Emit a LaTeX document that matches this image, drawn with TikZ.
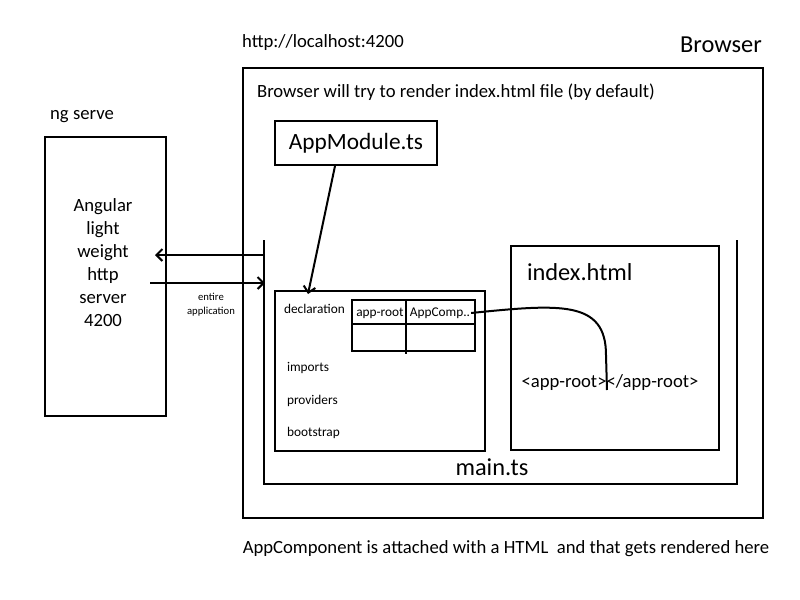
\documentclass[tikz,border=0pt]{standalone}
\usepackage{fontspec}
\setmainfont{Carlito}
\usetikzlibrary{arrows.meta}
\begin{document}
\begin{tikzpicture}[x=0.75pt,y=-0.75pt,line width=1.5pt,
  box/.style={draw,inner sep=0pt},
  lbl/.style={inner sep=0pt,font=\fontsize{14}{16}\selectfont},
  big/.style={inner sep=0pt,font=\fontsize{18.3}{21}\selectfont},
  small/.style={inner sep=0pt,font=\fontsize{10}{12}\selectfont}]
\useasboundingbox (0,0) rectangle (800,600);

% browser window
\node[box,minimum width=390pt,minimum height=337.5pt] (browser) at (503,293) {};
\node[big] (browsertitle) at (721,45) {Browser};
\node[lbl] (url) at (323,43) {http://localhost:4200};
\node[lbl] (render) at (456,92) {Browser will try to render index.html file (by default)};

\node[box,minimum width=121.5pt,minimum height=33pt,font=\fontsize{17.5}{20}\selectfont] (appmod) at (356,143) {AppModule.ts};

% main.ts, open at the top
\coordinate (mainTL) at (264,240);
\coordinate (mainBL) at (264,484);
\coordinate (mainBR) at (737,484);
\coordinate (mainTR) at (737,240);
\draw (mainTL) -- (mainBL) -- (mainBR) -- (mainTR);
\node[big] (maints) at (492,467) {main.ts};

\node[box,minimum width=157.5pt,minimum height=120pt] (decl) at (380,371) {};
\node[small,anchor=west] (declaration) at (283,309) {declaration};
\node[small,anchor=west] (imports) at (286,368) {imports};
\node[small,anchor=west] (providers) at (286,401) {providers};
\node[small,anchor=west] (bootstrap) at (286,433) {bootstrap};

% declarations table
\node[box,minimum width=92.25pt,minimum height=38.25pt] (tbl) at (413.5,325.5) {};
\draw (352,324) -- (475,324);
\draw (406,300) -- (406,354);
\node[small] (approot) at (380,313) {app-root};
\node[small] (appcomp) at (440,313) {AppComp..};

\node[box,minimum width=156pt,minimum height=153pt] (index) at (615,348) {};
\node[big,anchor=west] (indextitle) at (526,272) {index.html};
\node[lbl] (tag) at (610,383) {<app-root></app-root>};

% dev server
\node[lbl] (ngserve) at (82,117) {ng serve};
\node[box,minimum width=90.75pt,minimum height=209.25pt] (server) at (105.5,276.5) {};
\node[lbl,align=center,font=\fontsize{14}{17.25}\selectfont] (servertext) at (103,263) {Angular\\light\\weight\\http\\server\\4200};

\coordinate (reqL) at (155,255);
\coordinate (resL) at (150,283);
\draw[->, >=Straight Barb] (mainTL |- reqL) -- (reqL);
\draw[->, >=Straight Barb] (resL) -- ([xshift=0.75pt]mainTL |- resL);
\node[small,align=center,font=\fontsize{8}{10.5}\selectfont] (entire) at (211,305) {entire\\application};

\draw[->, >=Straight Barb] ([xshift=-15.75pt]appmod.south) -- ([xshift=-54pt,yshift=-3pt]decl.north);
\draw[line width=1.5pt] (appcomp.east) .. controls (560,304) and (606,300) .. (606,355) -- (607,390);

\node[lbl] (note) at (506,549) {AppComponent is attached with a HTML\ \ and that gets rendered here};
\end{tikzpicture}
\end{document}
